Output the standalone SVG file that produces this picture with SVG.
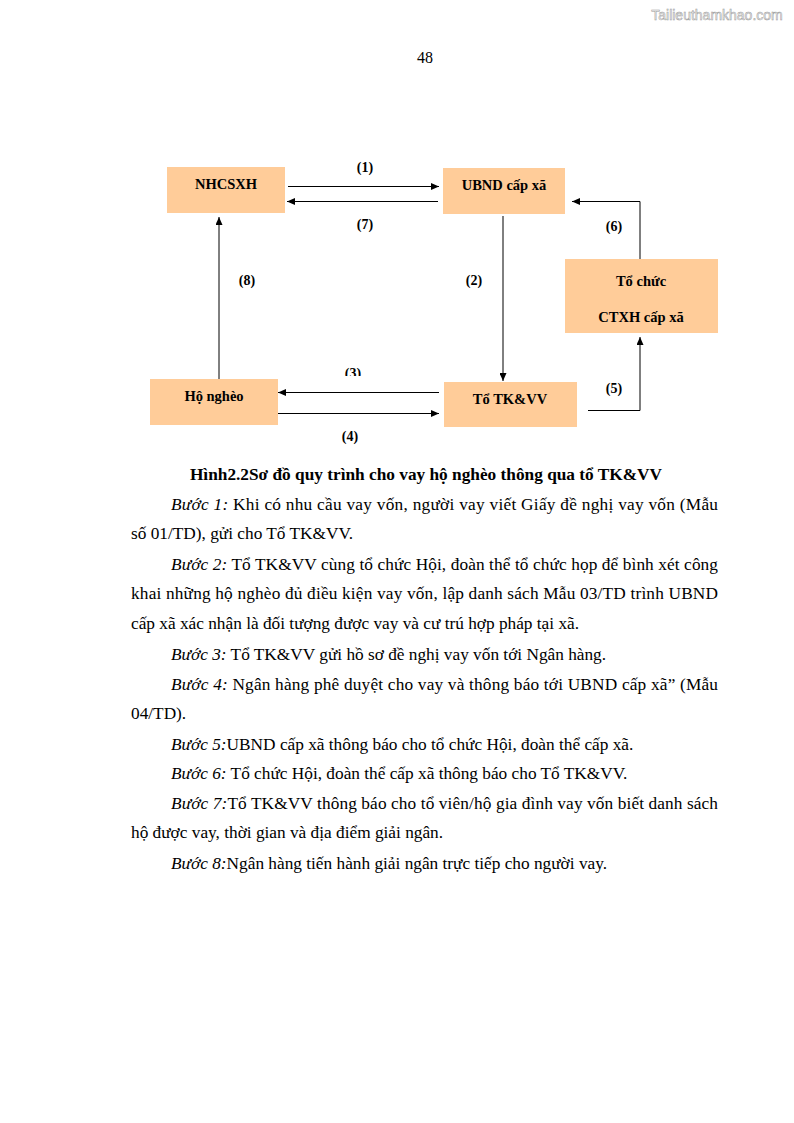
<svg xmlns="http://www.w3.org/2000/svg" width="794" height="1123" viewBox="0 0 794 1123">
<style>
.box{fill:#FFCC99;stroke:none}
.bt{font-family:"Liberation Serif","Times New Roman",serif;font-weight:bold;font-size:14.5px;fill:#000;text-anchor:middle}
.lbl{font-family:"Liberation Serif","Times New Roman",serif;font-weight:bold;font-size:14px;fill:#000;text-anchor:middle}
.ln{fill:none;stroke:#000;stroke-width:1}
.body{font-family:"Liberation Serif","Times New Roman",serif;font-size:17.3px;fill:#000}
.it{font-style:italic}
.cap{font-family:"Liberation Serif","Times New Roman",serif;font-size:17.3px;font-weight:bold;fill:#000;text-anchor:middle}
</style>
<defs>
<marker id="ah" markerUnits="userSpaceOnUse" markerWidth="8" markerHeight="7" refX="8" refY="3.5" orient="auto">
<path d="M0,0 L8,3.5 L0,7 z" fill="#000"/>
</marker>
<clipPath id="clip3"><rect x="330" y="360" width="50" height="16"/></clipPath>
</defs>
<rect width="794" height="1123" fill="#fff"/>
<text x="717" y="20" font-family="'Liberation Sans',Arial,sans-serif" font-size="14" fill="#f2f2f2" stroke="#9a9a9a" stroke-width="0.5" text-anchor="middle">Tailieuthamkhao.com</text>
<text x="425" y="63" font-family="'Liberation Serif','Times New Roman',serif" font-size="16" text-anchor="middle">48</text>

<g id="nhcsxh"><rect class="box" x="167" y="167" width="118" height="46"/><text class="bt" x="226" y="189">NHCSXH</text></g>
<g id="ubnd"><rect class="box" x="443" y="168" width="122" height="46"/><text class="bt" x="504" y="190">UBND cấp xã</text></g>
<g id="ctxh"><rect class="box" x="565" y="259" width="153" height="74"/><text class="bt" x="641" y="286">Tổ chức</text><text class="bt" x="641" y="322">CTXH cấp xã</text></g>
<g id="hongheo"><rect class="box" x="150" y="379" width="128" height="46"/><text class="bt" x="214" y="401">Hộ nghèo</text></g>
<g id="totkvv"><rect class="box" x="444" y="382" width="133" height="45"/><text class="bt" x="510" y="404">Tổ TK&amp;VV</text></g>

<g id="connectors">
<line class="ln" x1="288" y1="186.5" x2="439" y2="186.5" marker-end="url(#ah)"/>
<line class="ln" x1="438" y1="201.5" x2="287" y2="201.5" marker-end="url(#ah)"/>
<line class="ln" x1="219" y1="379" x2="219" y2="217" marker-end="url(#ah)"/>
<line class="ln" x1="503" y1="216" x2="503" y2="381" marker-end="url(#ah)"/>
<polyline class="ln" points="640,259 640,201.5 572,201.5" marker-end="url(#ah)"/>
<polyline class="ln" points="588,410.5 640,410.5 640,337" marker-end="url(#ah)"/>
<line class="ln" x1="439" y1="392.5" x2="278" y2="392.5" marker-end="url(#ah)"/>
<line class="ln" x1="278" y1="413.5" x2="439" y2="413.5" marker-end="url(#ah)"/>
<text class="lbl" x="365" y="172">(1)</text>
<text class="lbl" x="365" y="229">(7)</text>
<text class="lbl" x="247" y="285">(8)</text>
<text class="lbl" x="474" y="285">(2)</text>
<text class="lbl" x="614" y="231">(6)</text>
<text class="lbl" x="614" y="393">(5)</text>
<text class="lbl" x="353" y="378" clip-path="url(#clip3)">(3)</text>
<text class="lbl" x="350" y="441">(4)</text>
</g>

<text class="cap" x="426" y="480">Hình2.2Sơ đồ quy trình cho vay hộ nghèo thông qua tổ TK&amp;VV</text>
<text class="body" x="171" y="510" textLength="547" lengthAdjust="spacing"><tspan class="it">Bước 1:</tspan> Khi có nhu cầu vay vốn, người vay viết Giấy đề nghị vay vốn (Mẫu</text>
<text class="body" x="131" y="539">số 01/TD), gửi cho Tổ TK&amp;VV.</text>
<text class="body" x="171" y="570" textLength="547" lengthAdjust="spacing"><tspan class="it">Bước 2:</tspan> Tổ TK&amp;VV cùng tổ chức Hội, đoàn thể tổ chức họp để bình xét công</text>
<text class="body" x="131" y="599" textLength="587" lengthAdjust="spacing">khai những hộ nghèo đủ điều kiện vay vốn, lập danh sách Mẫu 03/TD trình UBND</text>
<text class="body" x="131" y="629">cấp xã xác nhận là đối tượng được vay và cư trú hợp pháp tại xã.</text>
<text class="body" x="171" y="660"><tspan class="it">Bước 3:</tspan> Tổ TK&amp;VV gửi hồ sơ đề nghị vay vốn tới Ngân hàng.</text>
<text class="body" x="171" y="690" textLength="547" lengthAdjust="spacing"><tspan class="it">Bước 4:</tspan> Ngân hàng phê duyệt cho vay và thông báo tới UBND cấp xã” (Mẫu</text>
<text class="body" x="131" y="719">04/TD).</text>
<text class="body" x="171" y="750"><tspan class="it">Bước 5:</tspan>UBND cấp xã thông báo cho tổ chức Hội, đoàn thể cấp xã.</text>
<text class="body" x="171" y="779"><tspan class="it">Bước 6:</tspan> Tổ chức Hội, đoàn thể cấp xã thông báo cho Tổ TK&amp;VV.</text>
<text class="body" x="171" y="809" textLength="547" lengthAdjust="spacing"><tspan class="it">Bước 7:</tspan>Tổ TK&amp;VV thông báo cho tổ viên/hộ gia đình vay vốn biết danh sách</text>
<text class="body" x="131" y="838">hộ được vay, thời gian và địa điểm giải ngân.</text>
<text class="body" x="171" y="869"><tspan class="it">Bước 8:</tspan>Ngân hàng tiến hành giải ngân trực tiếp cho người vay.</text>
</svg>
